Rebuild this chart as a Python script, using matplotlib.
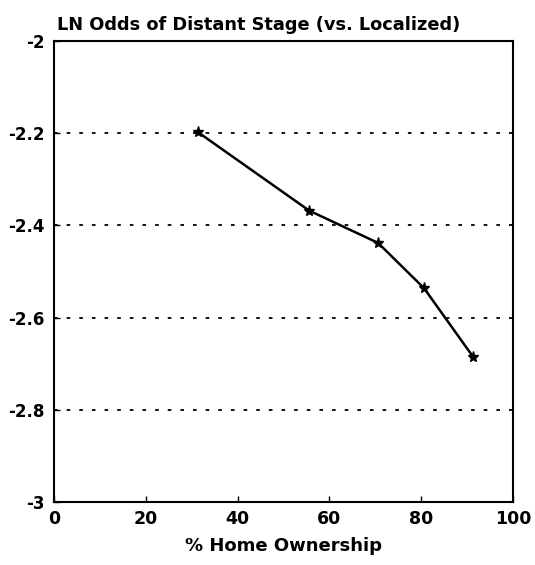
import matplotlib
matplotlib.use('Agg')
import matplotlib.pyplot as plt

home_own = [31.4, 55.6, 70.6, 80.6, 91.3]
ln_odds = [-2.198, -2.368, -2.438, -2.536, -2.685]
x_ticks = [0, 20, 40, 60, 80, 100]
y_ticks = [-3, -2.8, -2.6, -2.4, -2.2, -2]
y_labels = ['-3', '-2.8', '-2.6', '-2.4', '-2.2', '-2']
grid_levels = [-2.8, -2.6, -2.4, -2.2]

plt.rcParams['font.family'] = ['DejaVu Sans']
plt.rcParams['font.weight'] = 'bold'

fig = plt.figure(figsize=(5.35, 5.65), dpi=100)
ax = fig.add_axes([54/535, 1 - 502/565, 459/535, 461/565])

for g in grid_levels:
    ax.axhline(g, color='black', lw=1.3, ls=(0, (2, 5)), zorder=1)

ax.plot(home_own, ln_odds, color='black', lw=1.8, marker='*', ms=8, zorder=3)

ax.set_xlim(0, 100)
ax.set_ylim(-3, -2)
ax.set_xticks(x_ticks)
ax.set_xticklabels([str(v) for v in x_ticks], fontsize=12.5, fontweight='bold')
ax.set_yticks(y_ticks)
ax.set_yticklabels(y_labels, fontsize=12, fontweight='bold')
ax.tick_params(direction='in', length=4, width=1, pad=6)
ax.tick_params(axis='y', pad=7)
for s in ax.spines.values():
    s.set_linewidth(1.5)

ax.set_xlabel('% Home Ownership', fontsize=13, fontweight='bold', labelpad=6)
fig.text(57/535, 1 - 30/565, 'LN Odds of Distant Stage (vs. Localized)',
         fontsize=12.8, fontweight='bold', ha='left', va='baseline')

fig.savefig('out.png', dpi=100)
